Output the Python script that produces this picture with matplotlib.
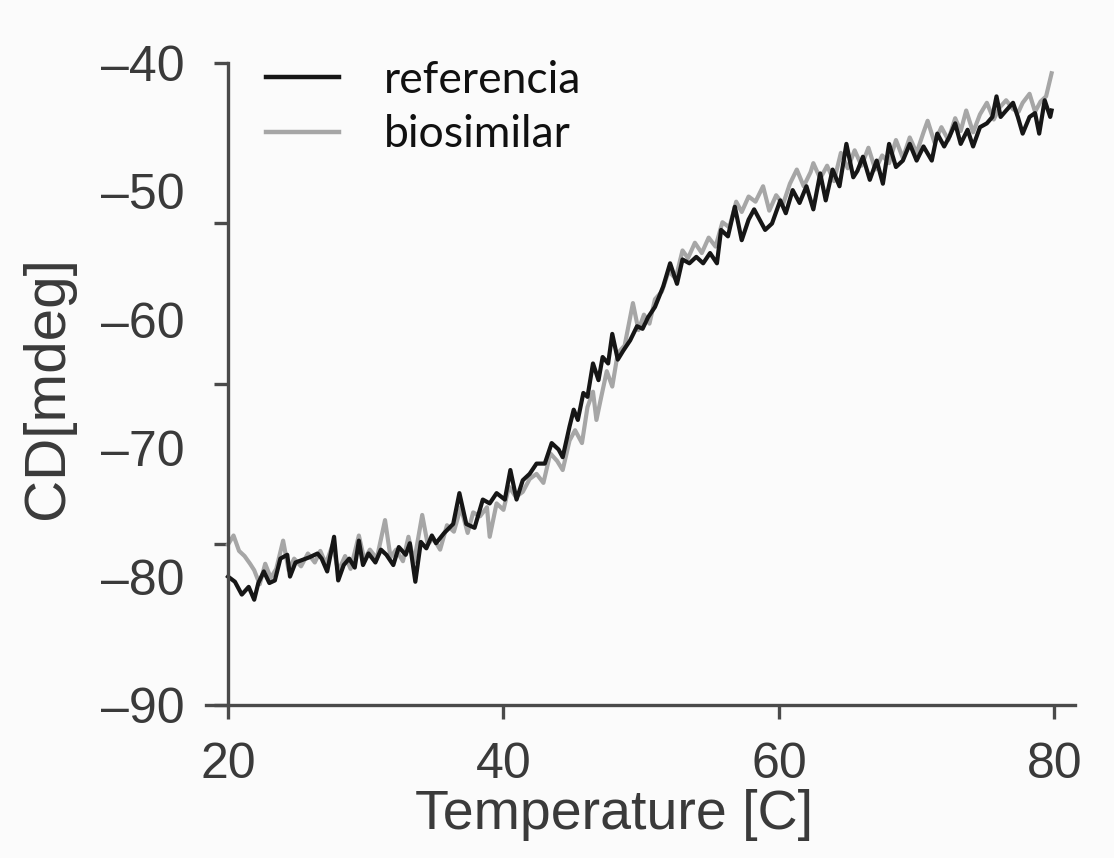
import matplotlib
matplotlib.use("Agg")
import matplotlib.pyplot as plt
from matplotlib import font_manager as fm
from matplotlib.ticker import FixedLocator, NullFormatter

# ---- data ----
ref_temp = [20.0, 20.5, 21.0, 21.5, 21.9, 22.2, 22.6, 23.0, 23.4, 23.8, 24.3, 24.5, 24.9, 25.4,
            25.9, 26.5, 26.8, 27.2, 27.7, 28.0, 28.4, 28.8, 29.2, 29.5, 29.8, 30.2, 30.7, 31.1,
            31.5, 32.0, 32.4, 32.9, 33.2, 33.6, 34.0, 34.4, 34.8, 35.1, 35.7, 36.35, 36.8, 37.3,
            37.9, 38.5, 39.0, 39.5, 40.1, 40.5, 40.95, 41.4, 41.9, 42.4, 43.0, 43.5, 44.0, 44.3,
            44.8, 45.1, 45.4, 45.8, 46.1, 46.5, 46.9, 47.2, 47.6, 47.9, 48.3, 48.7, 49.2, 49.7,
            50.1, 50.5, 51.0, 51.6, 52.1, 52.6, 53.0, 53.5, 54.0, 54.5, 55.0, 55.5, 55.8, 56.3,
            56.8, 57.3, 57.8, 58.2, 59.0, 59.5, 60.1, 60.5, 61.0, 61.5, 62.0, 62.5, 63.0, 63.4,
            63.9, 64.4, 64.9, 65.4, 65.7, 66.1, 66.6, 67.1, 67.55, 68.0, 68.5, 69.0, 69.5, 70.0,
            70.5, 71.1, 71.5, 72.0, 72.4, 72.8, 73.2, 73.7, 74.1, 74.6, 75.1, 75.5, 75.8, 76.1,
            76.5, 77.0, 77.35, 77.7, 78.2, 78.6, 78.9, 79.3, 79.7, 79.8]
ref_cd = [-80.0, -80.4, -81.4, -80.8, -81.8, -80.5, -79.6, -80.5, -80.3, -78.6, -78.3, -80.0, -78.9, -78.7,
          -78.5, -78.2, -78.6, -79.6, -76.9, -80.3, -79.1, -78.6, -79.3, -77.2, -79.1, -78.2, -78.9, -77.9,
          -78.3, -79.1, -77.7, -78.3, -77.4, -80.4, -77.3, -77.8, -76.8, -77.4, -76.6, -75.9, -73.5, -75.9,
          -76.2, -74.0, -74.3, -73.5, -74.0, -71.7, -74.0, -72.5, -72.0, -71.2, -71.2, -69.6, -70.1, -70.7,
          -68.3, -67.0, -67.8, -65.7, -66.0, -63.4, -64.7, -62.9, -63.4, -61.1, -63.1, -62.4, -61.6, -60.5,
          -60.7, -59.8, -59.0, -57.4, -55.6, -57.2, -55.3, -55.6, -55.1, -55.6, -54.8, -55.6, -53.0, -53.5,
          -51.2, -53.8, -52.2, -51.4, -53.0, -52.5, -50.7, -51.7, -49.9, -50.9, -49.6, -51.4, -48.6, -50.7,
          -48.3, -49.6, -46.3, -48.9, -48.4, -47.3, -49.1, -47.6, -49.4, -46.3, -48.1, -47.6, -46.3, -47.6,
          -46.5, -47.6, -45.5, -46.5, -45.7, -44.7, -46.3, -45.2, -46.5, -45.0, -44.7, -44.2, -42.6, -44.2,
          -43.7, -43.1, -44.2, -45.5, -44.2, -43.9, -45.5, -42.9, -44.2, -43.7]

bio_temp = [20.0, 20.4, 20.8, 21.2, 21.6, 21.9, 22.3, 22.7, 23.1, 23.5, 24.0, 24.4, 24.8, 25.3,
            25.8, 26.3, 26.7, 27.1, 27.6, 28.0, 28.5, 28.9, 29.5, 29.9, 30.3, 30.8, 31.4, 31.8,
            32.2, 32.7, 33.1, 33.5, 34.1, 34.5, 34.9, 35.4, 35.9, 36.4, 36.9, 37.4, 37.8, 38.3,
            38.8, 39.0, 39.5, 40.0, 40.4, 40.9, 41.4, 41.9, 42.4, 42.9, 43.4, 43.9, 44.3, 44.8,
            45.2, 45.7, 46.1, 46.5, 46.75, 47.1, 47.5, 47.9, 48.3, 48.8, 49.4, 49.8, 50.2, 50.6,
            51.0, 51.5, 52.0, 52.5, 53.0, 53.4, 53.9, 54.4, 54.9, 55.4, 55.9, 56.4, 56.9, 57.3,
            57.8, 58.3, 58.85, 59.3, 59.8, 60.3, 60.8, 61.3, 61.8, 62.3, 62.5, 63.0, 63.5, 64.0,
            64.5, 65.0, 65.5, 66.0, 66.5, 67.0, 67.5, 68.0, 68.5, 69.0, 69.5, 70.0, 70.5, 70.8,
            71.3, 71.8, 72.3, 72.8, 73.2, 73.6, 74.1, 74.6, 75.1, 75.6, 76.0, 76.5, 77.0, 77.4,
            77.7, 78.2, 78.6, 79.0, 79.4, 79.8]
bio_cd = [-77.5, -76.8, -78.0, -78.4, -79.0, -79.5, -80.6, -79.0, -80.1, -79.4, -77.2, -79.5, -78.6, -79.2,
          -78.2, -78.9, -78.0, -79.0, -77.5, -79.6, -78.4, -79.4, -76.8, -78.7, -77.9, -78.6, -75.6, -78.5,
          -77.9, -78.8, -76.9, -78.9, -75.2, -77.5, -77.0, -77.9, -76.0, -76.5, -74.6, -76.6, -75.0, -75.3,
          -74.6, -76.9, -74.3, -74.8, -73.0, -73.8, -73.4, -72.4, -72.0, -72.7, -70.4, -71.0, -71.7, -69.4,
          -68.6, -69.6, -66.8, -65.6, -67.8, -66.0, -64.0, -65.2, -62.6, -62.0, -58.7, -60.8, -59.6, -60.3,
          -58.4, -57.8, -56.2, -56.8, -54.6, -55.2, -54.0, -54.8, -53.6, -54.3, -52.4, -52.8, -50.8, -51.6,
          -50.4, -50.8, -49.6, -51.5, -50.3, -51.0, -49.4, -48.3, -49.6, -48.5, -47.8, -49.0, -48.0, -49.2,
          -47.0, -48.2, -46.8, -48.0, -46.6, -48.3, -47.2, -47.8, -46.0, -47.4, -45.8, -47.0, -45.4, -44.5,
          -46.2, -45.0, -46.0, -44.3, -45.3, -43.7, -45.4, -44.0, -43.1, -44.4, -43.5, -42.9, -43.6, -43.8,
          -43.1, -42.4, -43.8, -43.0, -42.6, -40.8]

x_ticks = [20, 40, 60, 80]
y_labels = [-40, -50, -60, -70, -80, -90]
y_marks = [-40, -52.5, -65, -77.5, -90]
series_labels = ["referencia", "biosimilar"]


def has_font(name):
    try:
        fm.findfont(fm.FontProperties(family=name), fallback_to_default=False)
        return True
    except Exception:
        return False


axis_font = "Liberation Sans" if has_font("Liberation Sans") else "DejaVu Sans"
tick_size, xlab_size, ylab_size = 36, 40, 42
leg_font = "Lato" if has_font("Lato") else "DejaVu Sans"

W, H = 1114, 858
fig = plt.figure(figsize=(W / 100, H / 100), dpi=100, facecolor="#fbfbfb")
ax = fig.add_axes([206 / W, 1 - 705 / H, (1075 - 206) / W, (705 - 63) / H])
ax.set_facecolor("#fbfbfb")

line_bio, = ax.plot(bio_temp, bio_cd, color="#a6a6a6", lw=3.0, solid_joinstyle="round")
line_ref, = ax.plot(ref_temp, ref_cd, color="#161616", lw=3.0, solid_joinstyle="round")

ax.set_xlim(18.4, 81.5)
ax.set_ylim(-90, -40)

spine_col = "#4a4a4a"
txt_col = "#3a3a3a"
for s in ("top", "right"):
    ax.spines[s].set_visible(False)
ax.spines["left"].set_position(("data", 20))
ax.spines["left"].set_bounds(-90, -40)
for s in ("left", "bottom"):
    ax.spines[s].set_color(spine_col)
    ax.spines[s].set_linewidth(2.4)

ax.set_xticks(x_ticks)
ax.set_xticklabels([str(v) for v in x_ticks])
ax.tick_params(axis="x", which="major", direction="out", length=10, width=2.4,
               color=spine_col, labelcolor=txt_col, labelsize=tick_size, pad=17)

ax.yaxis.remove_overlapping_locs = False
ax.yaxis.set_major_locator(FixedLocator(y_labels))
ax.set_yticklabels(["\u2013" + str(abs(v)) for v in y_labels])
ax.yaxis.set_minor_locator(FixedLocator(y_marks))
ax.yaxis.set_minor_formatter(NullFormatter())
ax.tick_params(axis="y", which="major", length=0, labelcolor=txt_col,
               labelsize=tick_size, pad=31)
ax.tick_params(axis="y", which="minor", direction="out", length=10, width=2.4, color=spine_col)

for lab in ax.get_xticklabels() + ax.get_yticklabels():
    lab.set_family(axis_font)

ax.set_xlabel("Temperature [C]", fontsize=xlab_size, color=txt_col, family=axis_font)
ax.xaxis.set_label_coords(614 / W, 1 - 815 / H, transform=fig.transFigure)
ax.xaxis.label.set_verticalalignment("center")

ax.set_ylabel("CD[mdeg]", fontsize=ylab_size, color=txt_col, family=axis_font)
ax.yaxis.set_label_coords(48 / W, 1 - 388 / H, transform=fig.transFigure)
ax.yaxis.label.set_verticalalignment("center")

leg = ax.legend([line_ref, line_bio], series_labels, loc="upper left",
                bbox_to_anchor=(266 / W, 1 - 60 / H), bbox_transform=fig.transFigure,
                frameon=False, borderpad=0, borderaxespad=0,
                handlelength=1.65, handletextpad=1.0, labelspacing=0.3,
                prop={"family": leg_font, "size": 32})
for t in leg.get_texts():
    t.set_color("#111111")
for h in leg.legend_handles:
    h.set_linewidth(3.2)

fig.savefig("out.png", dpi=100, facecolor=fig.get_facecolor())
